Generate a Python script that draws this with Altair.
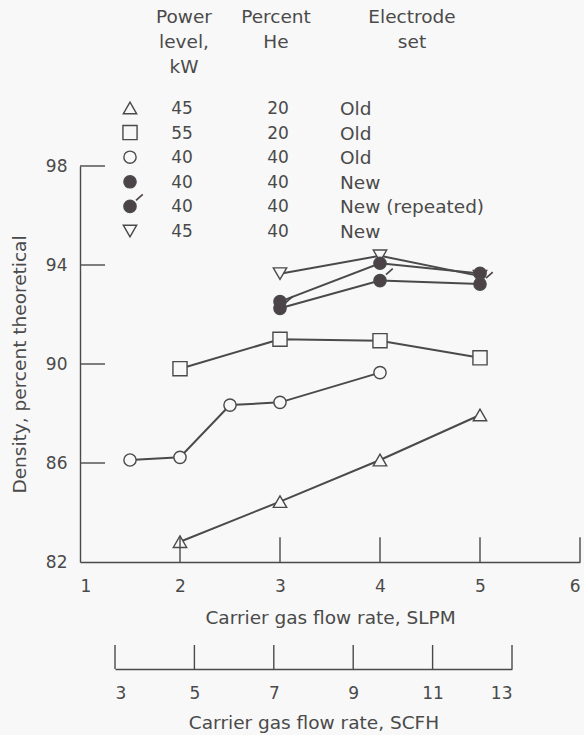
import altair as alt
import pandas as pd

# ---------------- data ----------------
series = ["t45_20_old", "s55_20_old", "c40_40_old", "f40_40_new", "f40_40_rep", "v45_40_new"]
power_kw = [45, 55, 40, 40, 40, 45]
percent_he = [20, 20, 40, 40, 40, 40]
electrode = ["Old", "Old", "Old", "New", "New (repeated)", "New"]

tri45_x = [2, 3, 4, 5]
tri45_y = [82.82, 84.44, 86.12, 87.94]
sq55_x = [2, 3, 4, 5]
sq55_y = [89.81, 91.0, 90.94, 90.25]
circ40old_x = [1.5, 2, 2.5, 3, 4]
circ40old_y = [86.12, 86.23, 88.34, 88.45, 89.65]
circ40new_x = [3, 4, 5]
circ40new_y = [92.52, 94.07, 93.66]
circ40rep_x = [3, 4, 5]
circ40rep_y = [92.25, 93.37, 93.23]
tri45new_x = [3, 4, 5]
tri45new_y = [93.65, 94.37, 93.55]

slpm_ticks = [1, 2, 3, 4, 5, 6]
density_ticks = [82, 86, 90, 94, 98]
scfh_ticks = [3, 5, 7, 9, 11, 13]

header_power = "Power\nlevel,\nkW"
header_he = "Percent\nHe"
header_electrode = "Electrode\nset"

# ---------------- styles ----------------
BG = "#f8f8f8"
INK = "#4a4a4a"
DARK = "#4b4347"
FONT = "DejaVu Sans"
shapes = ["triangle-up", "square", "circle", "circle", "circle", "triangle-down"]
fills = [BG, BG, BG, DARK, DARK, BG]
sizes = [180, 200, 150, 150, 150, 180]
TICK_PATH = "M0.4,-0.4L0.85,-0.8"

# ---------------- tables ----------------
xs = [tri45_x, sq55_x, circ40old_x, circ40new_x, circ40rep_x, tri45new_x]
ys = [tri45_y, sq55_y, circ40old_y, circ40new_y, circ40rep_y, tri45new_y]
draw_rank = [0, 1, 2, 4, 5, 3]
rows = []
for s, xv, yv, dr in zip(series, xs, ys, draw_rank):
    for i, (a, b) in enumerate(zip(xv, yv)):
        rows.append({"series": s, "slpm": a, "density": b, "ord": i, "draw": dr})
df = pd.DataFrame(rows)
pts_df = df.sort_values(["draw", "ord"]).reset_index(drop=True)
rep_df = df[df["series"] == "f40_40_rep"]

leg_df = pd.DataFrame({"series": series, "power": power_kw, "he": percent_he,
                       "electrode": electrode})

shape_scale = alt.Scale(domain=series, range=shapes)
fill_scale = alt.Scale(domain=series, range=fills)
size_scale = alt.Scale(type="ordinal", domain=series, range=sizes)

X = alt.X("slpm:Q", scale=alt.Scale(domain=[1, 6], nice=False, zero=False),
          axis=alt.Axis(values=slpm_ticks, title="Carrier gas flow rate, SLPM",
                        ticks=False, tickSize=0, labelPadding=16, titlePadding=14,
                        grid=False, format="d"))
Y = alt.Y("density:Q", scale=alt.Scale(domain=[82, 98], nice=False, zero=False),
          axis=alt.Axis(values=density_ticks, title="Density, percent theoretical",
                        ticks=False, tickSize=0, labelPadding=13, titlePadding=16,
                        grid=False, format="d"))

lines = alt.Chart(df).mark_line(color=INK, strokeWidth=2).encode(
    x=X, y=Y, detail="series:N", order="ord:Q")

points = alt.Chart(pts_df).mark_point(opacity=1, strokeWidth=1.4, stroke=INK).encode(
    x="slpm:Q", y="density:Q",
    shape=alt.Shape("series:N", scale=shape_scale, legend=None),
    fill=alt.Fill("series:N", scale=fill_scale, legend=None),
    size=alt.Size("series:N", scale=size_scale, legend=None),
)

rep_marks = alt.Chart(rep_df).mark_point(
    shape=TICK_PATH, size=900, filled=False, opacity=1, stroke=DARK, strokeWidth=1.6
).encode(x="slpm:Q", y="density:Q")

ytick_df = pd.DataFrame({"v": density_ticks[1:]})
yticks = alt.Chart(ytick_df).mark_rule(color=INK, strokeWidth=1.4).encode(
    y="v:Q", x=alt.datum(1), x2=alt.datum(1.25))

xtick_df = pd.DataFrame({"v": slpm_ticks[1:]})
xticks = alt.Chart(xtick_df).mark_rule(color=INK, strokeWidth=1.4).encode(
    x="v:Q", y=alt.datum(82), y2=alt.datum(83))

main = alt.layer(lines, points, rep_marks, yticks, xticks)

# secondary SCFH axis
scfh_df = pd.DataFrame({"scfh": scfh_ticks})
scfh = alt.Chart(scfh_df).mark_rule(color=INK, strokeWidth=1.4).encode(
    x=alt.X("scfh:Q", scale=alt.Scale(domain=[3, 13], range=[35, 432], nice=False, zero=False),
            axis=alt.Axis(orient="bottom", offset=107, values=scfh_ticks,
                          title="Carrier gas flow rate, SCFH", ticks=False, tickSize=0,
                          labelPadding=16, titlePadding=12, grid=False, format="d")),
    y=alt.value(479), y2=alt.value(503))
second = alt.layer(scfh)

# legend table
LY = alt.Y("series:N", scale=alt.Scale(type="point", domain=series, range=[-58, 65], padding=0),
           axis=None)
leg_sym = alt.Chart(leg_df).mark_point(opacity=1, strokeWidth=1.4, stroke=INK).encode(
    y=LY, x=alt.value(50),
    shape=alt.Shape("series:N", scale=shape_scale, legend=None),
    fill=alt.Fill("series:N", scale=fill_scale, legend=None),
    size=alt.Size("series:N", scale=size_scale, legend=None),
)
leg_rep = alt.Chart(leg_df[leg_df["series"] == "f40_40_rep"]).mark_point(
    shape=TICK_PATH, size=900, filled=False, opacity=1, stroke=DARK, strokeWidth=1.6
).encode(y=LY, x=alt.value(50))
txt = dict(font=FONT, color=INK, baseline="middle", dy=1)
leg_pow = alt.Chart(leg_df).mark_text(align="center", fontSize=17, **txt).encode(
    y=LY, x=alt.value(102), text="power:N")
leg_he = alt.Chart(leg_df).mark_text(align="center", fontSize=17, **txt).encode(
    y=LY, x=alt.value(198), text="he:N")
leg_el = alt.Chart(leg_df).mark_text(align="left", fontSize=18.5, **txt).encode(
    y=LY, x=alt.value(260), text="electrode:N")

def header(label, xpos):
    return alt.Chart(pd.DataFrame({"h": [label]})).mark_text(
        align="center", baseline="alphabetic", font=FONT, fontSize=18.5, color=INK,
        lineBreak="\n", lineHeight=25
    ).encode(text="h:N", x=alt.value(xpos), y=alt.value(-143))

legend = alt.layer(leg_sym, leg_rep, leg_pow, leg_he, leg_el,
                   header(header_power, 104), header(header_he, 196),
                   header(header_electrode, 332))

chart = alt.layer(main, second, legend).resolve_scale(
    x="independent", y="independent"
).properties(
    width=500, height=396,
    autosize=alt.AutoSizeParams(type="none"),
    padding={"left": 80, "top": 166, "right": 4, "bottom": 173},
    background=BG,
).configure_view(stroke=None).configure_axis(
    domainColor=INK, domainWidth=1.4, labelFont=FONT, labelFontSize=17, labelColor=INK,
    titleFont=FONT, titleFontSize=18.5, titleColor=INK, titleFontWeight="normal",
)

chart.save("out.html", embed_options={"renderer": "svg", "actions": False})
